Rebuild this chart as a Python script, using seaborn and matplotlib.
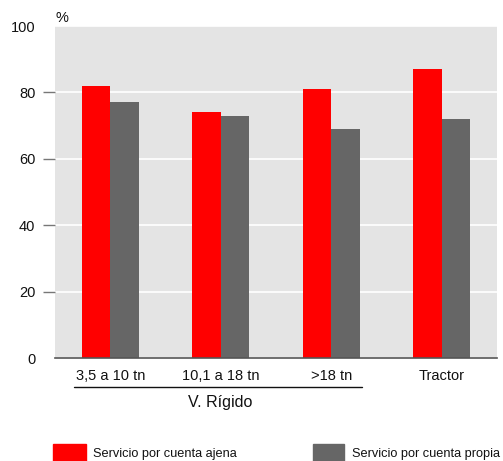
import matplotlib
matplotlib.use("Agg")
import matplotlib.pyplot as plt
import seaborn as sns
import pandas as pd

categories = ["3,5 a 10 tn", "10,1 a 18 tn", ">18 tn", "Tractor"]
ajena = [82, 74, 81, 87]
propia = [77, 73, 69, 72]
series_names = ["Servicio por cuenta ajena", "Servicio por cuenta propia"]
yticks = [0, 20, 40, 60, 80, 100]

df = pd.DataFrame({
    "cat": categories * 2,
    "val": ajena + propia,
    "serie": [series_names[0]] * 4 + [series_names[1]] * 4,
})

sns.set_style("white")
plt.rcParams["font.family"] = ["Liberation Sans", "DejaVu Sans"]

W, H = 503, 461
fig = plt.figure(figsize=(W / 100, H / 100), dpi=100)
ax = fig.add_axes([55 / W, (H - 358) / H, (497 - 55) / W, (358 - 26) / H])
ax.set_facecolor("#e4e4e4")

palette = {series_names[0]: "#ff0000", series_names[1]: "#666666"}
sns.barplot(data=df, x="cat", y="val", hue="serie", order=categories,
            hue_order=series_names, palette=palette, width=0.52, gap=0,
            saturation=1, linewidth=0, ax=ax, legend=False, zorder=3)

ax.set_ylim(0, 100)
ax.set_xlim(-0.5, 3.5)
ax.set_yticks(yticks)
ax.set_yticklabels([str(v) for v in yticks], fontsize=10.5)
ax.yaxis.grid(True, color="white", linewidth=1.2, zorder=1)
ax.set_axisbelow(True)
for name, s in ax.spines.items():
    s.set_visible(name == "bottom")
ax.spines["bottom"].set_color("#555555")
ax.spines["bottom"].set_linewidth(1.2)
ax.spines["bottom"].set_zorder(5)
ax.tick_params(axis="y", left=True, length=8.6, width=1, color="#777777", pad=5.5,
               labelcolor="#111111")
ticks = ax.yaxis.get_major_ticks()
ticks[0].tick1line.set_visible(False)
ticks[-1].tick1line.set_visible(False)
ax.tick_params(axis="x", length=0, pad=8, labelsize=10.5, labelcolor="#111111")
ax.set_xlabel("")
ax.set_ylabel("")

fig.text(55 / W, 1 - 18 / H, "%", fontsize=10.5, ha="left", va="center", color="#111111")

# V. Rígido bracket
fig.add_artist(plt.Line2D([74 / W, 362 / W], [1 - 387 / H, 1 - 387 / H],
                          color="#111111", linewidth=1))
fig.text(220 / W, 1 - 402 / H, "V. Rígido", fontsize=11.5, ha="center", va="center", color="#111111")

# Legend
fig.add_artist(plt.Rectangle((53 / W, 1 - 461 / H), 33 / W, 17 / H,
                             color="#ff0000", transform=fig.transFigure))
fig.text(93 / W, 1 - 454 / H, series_names[0], fontsize=9.2, ha="left", va="center", color="#111111")
fig.add_artist(plt.Rectangle((313 / W, 1 - 461 / H), 31 / W, 17 / H,
                             color="#666666", transform=fig.transFigure))
fig.text(352 / W, 1 - 454 / H, series_names[1], fontsize=9.2, ha="left", va="center", color="#111111")

fig.savefig("out.png", dpi=100)
